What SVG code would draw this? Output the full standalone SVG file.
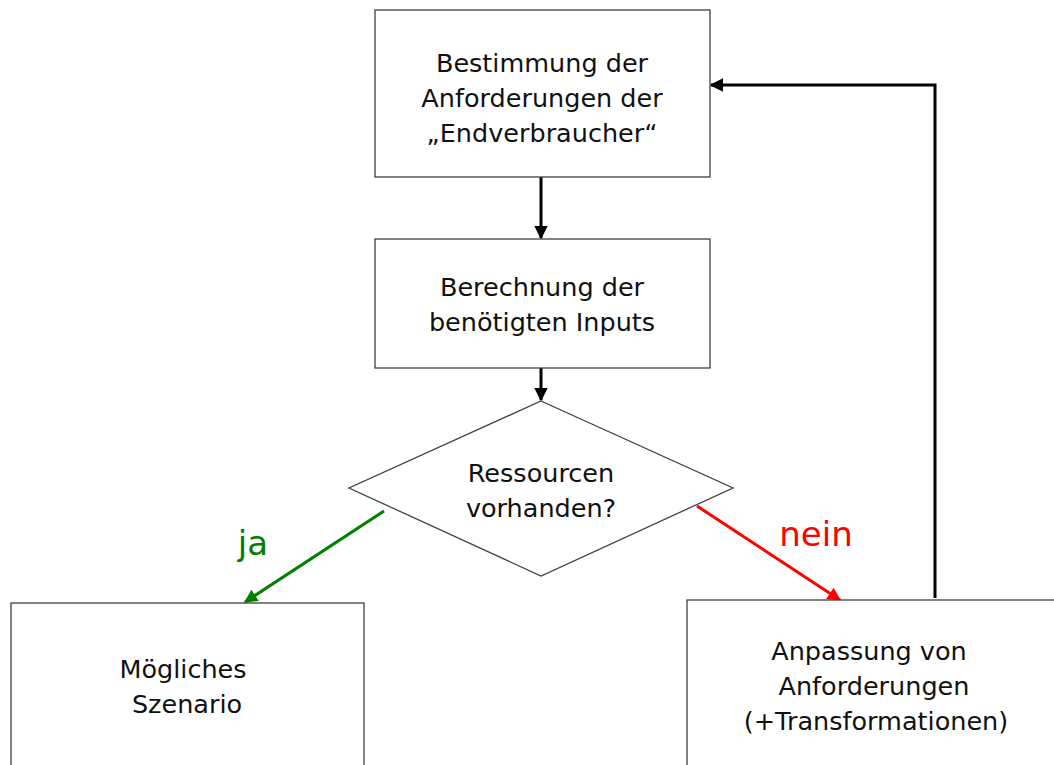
<svg xmlns="http://www.w3.org/2000/svg" width="1054" height="765" viewBox="0 0 1054 765">
<style>
.box{fill:#fff;stroke:#404040;stroke-width:1.3}
.t{font-family:"DejaVu Sans","Liberation Sans",sans-serif;font-size:25.5px;fill:#111;text-anchor:middle}
.lbl{font-family:"DejaVu Sans","Liberation Sans",sans-serif;font-size:34px;text-anchor:middle}
.c{fill:none;stroke-width:3}
</style>
<defs>
<marker id="ak" viewBox="0 0 10 10" refX="9" refY="5" markerWidth="4.5" markerHeight="4.5" orient="auto" markerUnits="strokeWidth"><path d="M0,0 L10,5 L0,10 z" fill="#000"/></marker>
<marker id="ag" viewBox="0 0 10 10" refX="9" refY="5" markerWidth="4.5" markerHeight="4.5" orient="auto" markerUnits="strokeWidth"><path d="M0,0 L10,5 L0,10 z" fill="#008000"/></marker>
<marker id="ar" viewBox="0 0 10 10" refX="9" refY="5" markerWidth="4.5" markerHeight="4.5" orient="auto" markerUnits="strokeWidth"><path d="M0,0 L10,5 L0,10 z" fill="#ff0000"/></marker>
</defs>
<rect width="1054" height="765" fill="#fff"/>
<g id="connectors">
<line class="c" x1="541" y1="177" x2="541" y2="238" stroke="#000" marker-end="url(#ak)"/>
<line class="c" x1="541" y1="368" x2="541" y2="400" stroke="#000" marker-end="url(#ak)"/>
<line class="c" x1="384" y1="511" x2="245" y2="602" stroke="#008000" marker-end="url(#ag)"/>
<line class="c" x1="697" y1="506" x2="840" y2="600" stroke="#ff0000" marker-end="url(#ar)"/>
<polyline class="c" points="935,598 935,85 711,85" stroke="#000" marker-end="url(#ak)"/>
<text class="lbl" x="253" y="555" fill="#008000">ja</text>
<text class="lbl" x="816" y="546" fill="#ff0000">nein</text>
</g>
<g id="n1">
<rect class="box" x="375" y="10" width="335" height="167"/>
<text class="t" x="542" y="72">Bestimmung der</text>
<text class="t" x="542" y="107">Anforderungen der</text>
<text class="t" x="542" y="142">„Endverbraucher“</text>
</g>
<g id="n2">
<rect class="box" x="375" y="239" width="335" height="129"/>
<text class="t" x="542" y="296">Berechnung der</text>
<text class="t" x="542" y="331">benötigten Inputs</text>
</g>
<g id="n3">
<polygon class="box" points="541,401 733,488 541,576 349,488"/>
<text class="t" x="541" y="482">Ressourcen</text>
<text class="t" x="541" y="517">vorhanden?</text>
</g>
<g id="n4">
<rect class="box" x="11" y="603" width="353" height="180"/>
<text class="t" x="183" y="678">Mögliches</text>
<text class="t" x="187" y="713">Szenario</text>
</g>
<g id="n5">
<rect class="box" x="687" y="600" width="380" height="180"/>
<text class="t" x="869" y="660">Anpassung von</text>
<text class="t" x="874" y="695">Anforderungen</text>
<text class="t" x="876" y="730">(+Transformationen)</text>
</g>
</svg>
